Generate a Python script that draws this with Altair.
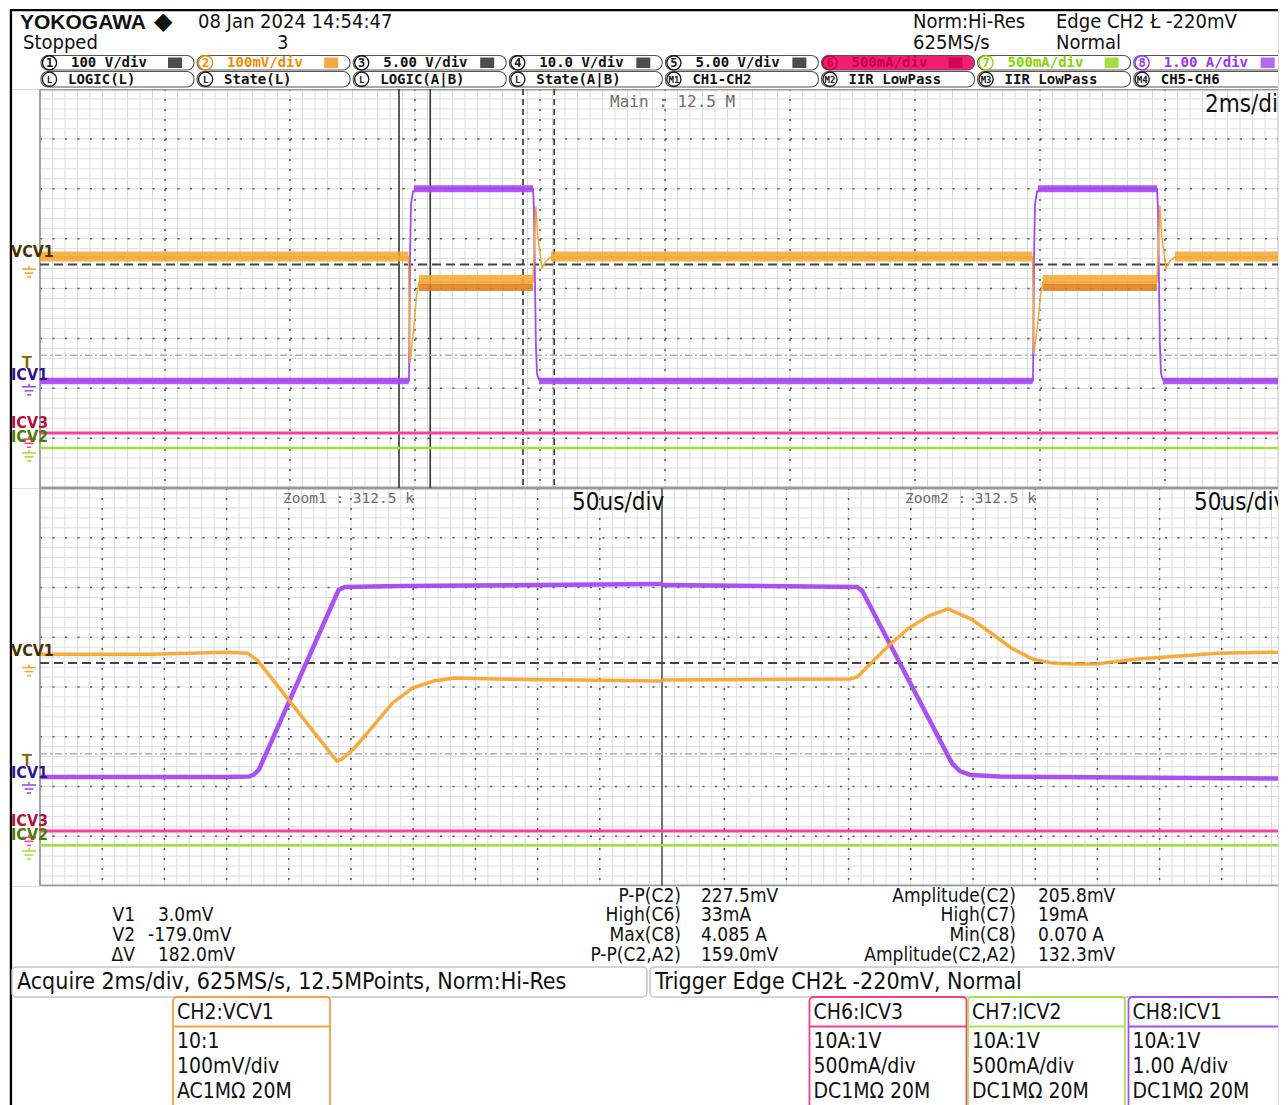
import altair as alt
import numpy as np
import pandas as pd

NARROW = "'Liberation Sans Narrow', 'Arial Narrow', 'DejaVu Sans Condensed', sans-serif"
MONO = "'DejaVu Sans Mono', 'Liberation Mono', monospace"
LOGO = "'Liberation Sans', Arial, sans-serif"

CHS = ["VCV1", "ICV1", "ICV3", "ICV2"]
CH_POS = {"VCV1": 0.45, "ICV1": -1.91, "ICV3": -2.963, "ICV2": -3.236}      # ground marker, div
CH_SCALE = {"VCV1": 100.0, "ICV1": 1.0, "ICV3": 0.5, "ICV2": 0.5}           # mV/div, A/div
CH_COLOR = {"VCV1": "#f5a732", "ICV1": "#a548f4", "ICV3": "#ff3c9c", "ICV2": "#a0e23c"}
LABEL_COLOR = {"VCV1": "#4a3200", "ICV1": "#2c1690", "ICV3": "#b4103e", "ICV2": "#4c7c00"}
LABEL_LIFT = {"VCV1": 0.28, "ICV1": 0.175, "ICV3": 0.26, "ICV2": 0.26}

cursor_v1_mv = 3.0
cursor_v2_mv = -179.0
trigger_mv = -220.0
zoom1_start_ms, zoom2_start_ms, zoom_len_ms = 5.744, 7.728, 0.5

# ---- Main window, 2 ms/div; t in ms from the left edge of the graticule
icv1_main_t = [0.0, 5.904, 5.92, 5.936, 5.968, 6.016, 7.888, 7.904, 7.934, 7.952, 7.984,
               15.888, 15.904, 15.92, 15.952, 16.0, 17.872, 17.888, 17.918, 17.936, 17.968, 19.9]
icv1_main_a = [0.06, 0.06, 2.5, 3.6, 3.85, 3.91, 3.91, 3.5, 0.8, 0.2, 0.08,
               0.06, 2.5, 3.6, 3.85, 3.91, 3.91, 3.5, 0.8, 0.2, 0.08, 0.06]
icv1_band_t0 = [0.0, 5.984, 7.984, 15.968, 17.968]
icv1_band_t1 = [5.90, 7.888, 15.884, 17.872, 19.9]
icv1_band_lo = [-0.01, 3.84, -0.01, 3.84, -0.01]
icv1_band_hi = [0.12, 3.98, 0.12, 3.98, 0.12]

vcv1_main_t = [0.0, 5.896, 5.92, 5.984, 6.024, 6.064, 7.888, 7.934, 7.964, 8.032, 8.096, 8.176,
               15.88, 15.904, 15.968, 16.008, 16.048, 17.872, 17.918, 17.948, 18.016, 18.08, 18.16, 19.9]
vcv1_main_mv = [18, 18, -195, -120, -60, -32, -32, 120, 60, -4, 10, 18,
                18, -175, -110, -60, -32, -32, 122, 60, -4, 10, 18, 18]
vcv1_base_t0 = [0.0, 8.176, 18.16]
vcv1_base_t1 = [5.896, 15.88, 19.9]
vcv1_base_lo, vcv1_base_hi = 9, 29
vcv1_pulse_t0 = [6.064, 16.048]
vcv1_pulse_t1 = [7.888, 17.872]
vcv1_pulse_top = (-38, -18)
vcv1_pulse_bot = (-50, -36)

icv3_main_t, icv3_main_a = [0.0, 19.9], [0.033, 0.033]
icv2_main_t, icv2_main_a = [0.0, 19.9], [0.019, 0.019]

# ---- Zoom windows, 50 us/div; t in us from the start of each zoom window
zoom1_vcv1_us = [0, 89, 150, 167, 175, 238.6, 242.6, 253, 266.6, 283.4, 299.4, 316.3, 333, 366, 432, 500]
zoom1_vcv1_mv = [21, 21, 25, 23, 8, -194, -190, -167, -127, -77, -47, -33, -27, -29, -31, -33]
zoom1_icv1_us = [0, 150, 168, 172, 176, 240, 245, 290, 400, 500]
zoom1_icv1_a = [0.10, 0.10, 0.11, 0.15, 0.25, 3.86, 3.92, 3.94, 3.96, 3.98]
zoom2_vcv1_us = [0, 151.3, 157, 168, 181.7, 198.6, 214.6, 229.8, 248.2, 264.2, 281, 297.9,
                 313.9, 330.7, 347.5, 380.3, 413.1, 446.7, 500]
zoom2_vcv1_mv = [-31, -29, -25, 3, 37, 74, 98, 112, 92, 64, 33, 11, 3, 1, 1, 11, 17, 23, 25]
zoom2_icv1_us = [0, 157, 161, 233, 239.4, 248.2, 271.4, 500]
zoom2_icv1_a = [3.96, 3.92, 3.84, 0.38, 0.22, 0.14, 0.11, 0.07]
zoom_icv3_a = 0.034
zoom_icv2_a = 0.027

# ---- header / footer texts
slot_nums = ["1", "2", "3", "4", "5", "6", "7", "8"]
slot_text = [" 100  V/div", " 100mV/div", "5.00  V/div", "10.0  V/div", "5.00  V/div",
             " 500mA/div", " 500mA/div", "1.00  A/div"]
slot_color = ["#111111", "#f08a00", "#111111", "#111111", "#111111", "#c4004e", "#86d400", "#9a35f5"]
math_nums = ["L", "L", "L", "L", "M1", "M2", "M3", "M4"]
math_text = ["LOGIC(L)", "State(L)", "LOGIC(A|B)", "State(A|B)", "CH1-CH2", "IIR LowPass",
             "IIR LowPass", "CH5-CH6"]
cursor_labels = ["V1", "V2", "ΔV"]
cursor_values = ["3.0mV", "-179.0mV", "182.0mV"]
meas1_labels = ["P-P(C2)", "High(C6)", "Max(C8)", "P-P(C2,A2)"]
meas1_values = ["227.5mV", "33mA", "4.085  A", "159.0mV"]
meas2_labels = ["Amplitude(C2)", "High(C7)", "Min(C8)", "Amplitude(C2,A2)"]
meas2_values = ["205.8mV", "19mA", "0.070  A", "132.3mV"]
info_boxes = [("CH2:VCV1", ["10:1", "100mV/div", "AC1MΩ 20M"], "#f5a040"),
              ("CH6:ICV3", ["10A:1V", "500mA/div", "DC1MΩ 20M"], "#f0408c"),
              ("CH7:ICV2", ["10A:1V", "500mA/div", "DC1MΩ 20M"], "#a6e448"),
              ("CH8:ICV1", ["10A:1V", "1.00  A/div", "DC1MΩ 20M"], "#a050f0")]

# ============================ LAYOUT ============================
W = 1269
GL = 39
DIVPX = 125.0
H_HEAD, H_MAIN, H_ZOOM, H_FOOT = 80, 399, 398, 220


def px2ms(px):
    return (px - GL) / DIVPX * 2.0


def px2zus(px):
    return (px - GL) * 500.0 / 622.0


def py2div(py, top, h):
    return 4.0 - (py - top) * 8.0 / h


def sc(d):
    return alt.Scale(domain=[float(d[0]), float(d[1])], nice=False, zero=False)


XS_MAIN = sc([px2ms(8), px2ms(1277)])
XS_ZOOM = sc([px2zus(8), px2zus(1277)])
XS_PAGE = sc([8, 1277])
YS_DIV = sc([-4, 4])
YS_HEAD = sc([88, 8])
YS_FOOT = sc([1105, 885])


def R(df, xs, ys, color, width, dash=None):
    kw = dict(color=color, strokeWidth=width, clip=True)
    if dash is not None:
        kw["strokeDash"] = dash
    e = {}
    if "x" in df:
        e["x"] = alt.X("x:Q", scale=xs, axis=None)
    if "x2" in df:
        e["x2"] = "x2:Q"
    if "y" in df:
        e["y"] = alt.Y("y:Q", scale=ys, axis=None)
    if "y2" in df:
        e["y2"] = "y2:Q"
    return alt.Chart(df).mark_rule(**kw).encode(**e)


def T(rows, xs, ys, **kw):
    df = pd.DataFrame(rows, columns=["text", "x", "y"])
    m = dict(align="left", baseline="middle", font=NARROW, fontSize=20, color="#111111", clip=True)
    m.update(kw)
    return alt.Chart(df).mark_text(**m).encode(
        x=alt.X("x:Q", scale=xs, axis=None), y=alt.Y("y:Q", scale=ys, axis=None), text="text:N")


def TC(rows, xs, ys, **kw):
    df = pd.DataFrame(rows, columns=["text", "x", "y", "c"])
    m = dict(align="left", baseline="middle", font=NARROW, fontSize=20, clip=True)
    m.update(kw)
    return alt.Chart(df).mark_text(**m).encode(
        x=alt.X("x:Q", scale=xs, axis=None), y=alt.Y("y:Q", scale=ys, axis=None),
        text="text:N", color=alt.Color("c:N", scale=None))


def LINE(x, y, xs, color, width, opacity=1.0):
    df = pd.DataFrame({"x": x, "y": y, "i": list(range(len(x)))})
    return alt.Chart(df).mark_line(color=color, strokeWidth=width, opacity=opacity, clip=True).encode(
        x=alt.X("x:Q", scale=xs, axis=None), y=alt.Y("y:Q", scale=YS_DIV, axis=None), order="i:Q")


def BAND(t0, t1, lo, hi, xs, color, opacity=1.0):
    rows = []
    for k in range(len(t0)):
        rows.append((t0[k], lo[k], hi[k], k))
        rows.append((t1[k], lo[k], hi[k], k))
    df = pd.DataFrame(rows, columns=["x", "lo", "hi", "seg"])
    return alt.Chart(df).mark_area(color=color, opacity=opacity, clip=True).encode(
        x=alt.X("x:Q", scale=xs, axis=None), y=alt.Y("lo:Q", scale=YS_DIV, axis=None),
        y2="hi:Q", detail="seg:N")


def ydiv(ch, vals):
    return [CH_POS[ch] + v / CH_SCALE[ch] for v in vals]


def graticule(xs, conv, minor_x, major_x, h):
    xr = conv(1295)
    L = []
    L.append(R(pd.DataFrame({"x": minor_x}), xs, YS_DIV, "#dcdcdc", 1))
    hy = [round(v, 2) for v in np.arange(-3.8, 3.9, 0.2)]
    L.append(R(pd.DataFrame({"x": 0.0, "x2": xr, "y": hy}), xs, YS_DIV, "#dcdcdc", 1))
    L.append(R(pd.DataFrame({"x": major_x}), xs, YS_DIV, "#5a5a5a", 1.5, [2, 8]))
    L.append(R(pd.DataFrame({"x": 0.0, "x2": xr, "y": [-3, -2, -1, 0, 1, 2, 3]}), xs, YS_DIV,
               "#5a5a5a", 1.5, [2, 10.5]))
    L.append(R(pd.DataFrame({"x": [0.0]}), xs, YS_DIV, "#8c8c8c", 1.6))
    L.append(R(pd.DataFrame({"x": 0.0, "x2": xr, "y": [4.0, -4.0]}), xs, YS_DIV, "#9a9a9a", 3))
    L.append(R(pd.DataFrame({"x": [conv(10)]}), xs, YS_DIV, "#000000", 2.2))
    return L


def cursors(xs, conv):
    xr = conv(1295)
    v1 = CH_POS["VCV1"] + cursor_v1_mv / CH_SCALE["VCV1"]
    v2 = CH_POS["VCV1"] + cursor_v2_mv / CH_SCALE["VCV1"]
    return [R(pd.DataFrame({"x": [0.0], "x2": [xr], "y": [v2]}), xs, YS_DIV, "#b0b0b0", 1.5, [7, 3, 2, 3]),
            R(pd.DataFrame({"x": [0.0], "x2": [xr], "y": [v1]}), xs, YS_DIV, "#444444", 2, [9, 5])]


def channel_marks(xs, conv, h):
    dpp = 8.0 / h
    L = []
    bars, stems = [], []
    for ch in CHS:
        g = CH_POS[ch]
        stems.append((conv(28), g, g - 3 * dpp, CH_COLOR[ch]))
        for off, hw in [(3, 7), (7, 4.5), (11, 2)]:
            bars.append((conv(28 - hw), conv(28 + hw), g - off * dpp, CH_COLOR[ch]))
    bdf = pd.DataFrame(bars, columns=["x", "x2", "y", "c"])
    L.append(alt.Chart(bdf).mark_rule(strokeWidth=1.6, clip=True).encode(
        x=alt.X("x:Q", scale=xs, axis=None), x2="x2:Q", y=alt.Y("y:Q", scale=YS_DIV, axis=None),
        color=alt.Color("c:N", scale=None)))
    sdf = pd.DataFrame(stems, columns=["x", "y", "y2", "c"])
    L.append(alt.Chart(sdf).mark_rule(strokeWidth=1.6, clip=True).encode(
        x=alt.X("x:Q", scale=xs, axis=None), y=alt.Y("y:Q", scale=YS_DIV, axis=None), y2="y2:Q",
        color=alt.Color("c:N", scale=None)))
    rows = [(ch, conv(10), CH_POS[ch] + LABEL_LIFT[ch], LABEL_COLOR[ch]) for ch in CHS]
    L.append(TC(rows, xs, YS_DIV, fontSize=16, fontWeight="bold"))
    trig = CH_POS["VCV1"] + trigger_mv / CH_SCALE["VCV1"]
    L.append(T([("T", conv(26), trig + 0.256)], xs, YS_DIV, fontSize=17, fontWeight="bold",
               color="#8a6000", align="center", font=LOGO))
    return L


# ============================ HEADER ============================
head = []
head.append(R(pd.DataFrame({"x": [10], "x2": [1277], "y": [9]}), XS_PAGE, YS_HEAD, "#000000", 2.5))
head.append(R(pd.DataFrame({"x": [10]}), XS_PAGE, YS_HEAD, "#000000", 2.2))
head.append(T([("YOKOGAWA", 19, 22)], XS_PAGE, YS_HEAD, font=LOGO, fontSize=21, fontWeight="bold"))
head.append(T([("◆", 153, 21)], XS_PAGE, YS_HEAD, font=LOGO, fontSize=24))
head.append(T([("08 Jan 2024 14:54:47", 197, 21), ("Stopped", 22, 42), ("3", 276, 42),
               ("Norm:Hi-Res", 912, 21), ("625MS/s", 912, 42),
               ("Edge CH2 Ł -220mV", 1055, 21), ("Normal", 1055, 42)],
              XS_PAGE, YS_HEAD, fontSize=20))
slot_x = [39 + 156.1 * k for k in range(8)]
pills = []
for k, s in enumerate(slot_x):
    pills.append((s + 1, s + 154, 54.5, 69, "#f41d74" if k == 5 else "#ffffff"))
    pills.append((s + 1, s + 154, 70.5, 86, "#ffffff"))
pdf = pd.DataFrame(pills, columns=["x", "x2", "y", "y2", "f"])
head.append(alt.Chart(pdf).mark_rect(stroke="#555555", strokeWidth=1.1, cornerRadius=7, clip=True).encode(
    x=alt.X("x:Q", scale=XS_PAGE, axis=None), x2="x2:Q", y=alt.Y("y:Q", scale=YS_HEAD, axis=None),
    y2="y2:Q", fill=alt.Fill("f:N", scale=None)))
icons = [(s + 128, s + 142, 56.5, 67, slot_color[k]) for k, s in enumerate(slot_x)]
idf = pd.DataFrame(icons, columns=["x", "x2", "y", "y2", "f"])
head.append(alt.Chart(idf).mark_rect(opacity=0.75, clip=True).encode(
    x=alt.X("x:Q", scale=XS_PAGE, axis=None), x2="x2:Q", y=alt.Y("y:Q", scale=YS_HEAD, axis=None),
    y2="y2:Q", fill=alt.Fill("f:N", scale=None)))
circ = [(s + 9.5, 61.8, slot_color[k]) for k, s in enumerate(slot_x)] + \
       [(s + 9.5, 78.2, "#111111") for s in slot_x]
cdf = pd.DataFrame(circ, columns=["x", "y", "c"])
head.append(alt.Chart(cdf).mark_point(shape="circle", size=200, filled=False, strokeWidth=1.3,
                                      opacity=1, clip=True).encode(
    x=alt.X("x:Q", scale=XS_PAGE, axis=None), y=alt.Y("y:Q", scale=YS_HEAD, axis=None),
    color=alt.Color("c:N", scale=None)))
head.append(TC([(slot_nums[k], s + 9.5, 62, slot_color[k]) for k, s in enumerate(slot_x)],
               XS_PAGE, YS_HEAD, font=MONO, fontSize=12, fontWeight="bold", align="center"))
head.append(TC([(math_nums[k], s + 9.5, 78.5, "#111111") for k, s in enumerate(slot_x)],
               XS_PAGE, YS_HEAD, font=MONO, fontSize=9, fontWeight="bold", align="center"))
head.append(TC([(slot_text[k], s + 31, 62, slot_color[k]) for k, s in enumerate(slot_x)],
               XS_PAGE, YS_HEAD, font=MONO, fontSize=14, fontWeight="bold"))
head.append(TC([(math_text[k], s + 28, 78.5, "#111111") for k, s in enumerate(slot_x)],
               XS_PAGE, YS_HEAD, font=MONO, fontSize=14, fontWeight="bold"))
header = alt.layer(*head).properties(width=W, height=H_HEAD)

# ============================ MAIN WINDOW ============================
mm = []
mm += graticule(XS_MAIN, px2ms, [round(v, 2) for v in np.arange(0.2, 19.9, 0.2)],
                [2, 4, 6, 8, 10, 12, 14, 16, 18], H_MAIN)
mm.append(R(pd.DataFrame({"x": [zoom1_start_ms, zoom1_start_ms + zoom_len_ms]}), XS_MAIN, YS_DIV,
            "#333333", 1.6))
mm.append(R(pd.DataFrame({"x": [zoom2_start_ms, zoom2_start_ms + zoom_len_ms]}), XS_MAIN, YS_DIV,
            "#333333", 1.6, [6, 4]))
mm += cursors(XS_MAIN, px2ms)
mm.append(LINE(icv2_main_t, ydiv("ICV2", icv2_main_a), XS_MAIN, CH_COLOR["ICV2"], 2.5))
mm.append(LINE(icv3_main_t, ydiv("ICV3", icv3_main_a), XS_MAIN, CH_COLOR["ICV3"], 3))
mm.append(BAND(icv1_band_t0, icv1_band_t1, ydiv("ICV1", icv1_band_lo), ydiv("ICV1", icv1_band_hi),
               XS_MAIN, CH_COLOR["ICV1"], 0.9))
mm.append(LINE(icv1_main_t, ydiv("ICV1", icv1_main_a), XS_MAIN, CH_COLOR["ICV1"], 1.8))
nb = len(vcv1_base_t0)
mm.append(BAND(vcv1_base_t0, vcv1_base_t1, ydiv("VCV1", [vcv1_base_lo] * nb),
               ydiv("VCV1", [vcv1_base_hi] * nb), XS_MAIN, CH_COLOR["VCV1"], 0.85))
npul = len(vcv1_pulse_t0)
mm.append(BAND(vcv1_pulse_t0, vcv1_pulse_t1, ydiv("VCV1", [vcv1_pulse_top[0]] * npul),
               ydiv("VCV1", [vcv1_pulse_top[1]] * npul), XS_MAIN, CH_COLOR["VCV1"], 0.85))
mm.append(BAND(vcv1_pulse_t0, vcv1_pulse_t1, ydiv("VCV1", [vcv1_pulse_bot[0]] * npul),
               ydiv("VCV1", [vcv1_pulse_bot[1]] * npul), XS_MAIN, "#e07a1c", 0.85))
mm.append(LINE(vcv1_main_t, ydiv("VCV1", vcv1_main_mv), XS_MAIN, CH_COLOR["VCV1"], 1.5))
mm += channel_marks(XS_MAIN, px2ms, H_MAIN)
mm.append(T([("Main : 12.5 M", px2ms(609), py2div(101, 88, H_MAIN))], XS_MAIN, YS_DIV,
            font=MONO, fontSize=16, color="#6e6e6e"))
mm.append(T([("2ms/div", px2ms(1204), py2div(104, 88, H_MAIN))], XS_MAIN, YS_DIV, fontSize=24))
main = alt.layer(*mm).properties(width=W, height=H_MAIN)

# ============================ ZOOM WINDOWS ============================
zz = []
zmaj = [v for v in range(50, 1000, 50) if v != 500]
zz += graticule(XS_ZOOM, px2zus, list(range(10, 1000, 10)), zmaj, H_ZOOM)
zz.append(R(pd.DataFrame({"x": [500.0]}), XS_ZOOM, YS_DIV, "#555555", 1.6))
zz += cursors(XS_ZOOM, px2zus)
for w, (vt, vv, it, iv) in enumerate([(zoom1_vcv1_us, zoom1_vcv1_mv, zoom1_icv1_us, zoom1_icv1_a),
                                      (zoom2_vcv1_us, zoom2_vcv1_mv, zoom2_icv1_us, zoom2_icv1_a)]):
    off = 500.0 * w
    zz.append(LINE([off, off + 500], ydiv("ICV2", [zoom_icv2_a] * 2), XS_ZOOM, CH_COLOR["ICV2"], 2.5))
    zz.append(LINE([off, off + 500], ydiv("ICV3", [zoom_icv3_a] * 2), XS_ZOOM, CH_COLOR["ICV3"], 3))
    zz.append(LINE([off + t for t in it], ydiv("ICV1", iv), XS_ZOOM, CH_COLOR["ICV1"], 4.5, 0.95))
    zz.append(LINE([off + t for t in vt], ydiv("VCV1", vv), XS_ZOOM, CH_COLOR["VCV1"], 3.5, 0.95))
zz += channel_marks(XS_ZOOM, px2zus, H_ZOOM)
zz.append(T([("Zoom1 : 312.5 k", px2zus(282), py2div(498, 487, H_ZOOM)),
             ("Zoom2 : 312.5 k", px2zus(904), py2div(498, 487, H_ZOOM))], XS_ZOOM, YS_DIV,
            font=MONO, fontSize=14.5, color="#6e6e6e"))
zz.append(T([("50us/div", px2zus(571), py2div(502, 487, H_ZOOM)),
             ("50us/div", px2zus(1193), py2div(502, 487, H_ZOOM))], XS_ZOOM, YS_DIV, fontSize=24))
zoom = alt.layer(*zz).properties(width=W, height=H_ZOOM)

# ============================ FOOTER ============================
ff = []
ff.append(R(pd.DataFrame({"x": [10]}), XS_PAGE, YS_FOOT, "#000000", 2.2))
rows_y = [895, 914, 934, 954]
ff.append(T([(cursor_labels[i], 134, rows_y[i + 1]) for i in range(3)], XS_PAGE, YS_FOOT,
            align="right", fontSize=19))
ff.append(T([(cursor_values[i], 147 if cursor_values[i].startswith("-") else 157, rows_y[i + 1])
             for i in range(3)], XS_PAGE, YS_FOOT, fontSize=19))
ff.append(T([(meas1_labels[i], 680, rows_y[i]) for i in range(4)], XS_PAGE, YS_FOOT, align="right",
            fontSize=19))
ff.append(T([(meas1_values[i], 700, rows_y[i]) for i in range(4)], XS_PAGE, YS_FOOT, fontSize=19))
ff.append(T([(meas2_labels[i], 1015, rows_y[i]) for i in range(4)], XS_PAGE, YS_FOOT, align="right",
            fontSize=19))
ff.append(T([(meas2_values[i], 1037, rows_y[i]) for i in range(4)], XS_PAGE, YS_FOOT, fontSize=19))
bars = pd.DataFrame([(11, 646, 966, 996), (649, 1290, 966, 996)], columns=["x", "x2", "y", "y2"])
ff.append(alt.Chart(bars).mark_rect(fill="#ffffff", stroke="#c4c4c4", strokeWidth=1.5, cornerRadius=4,
                                    clip=True).encode(
    x=alt.X("x:Q", scale=XS_PAGE, axis=None), x2="x2:Q", y=alt.Y("y:Q", scale=YS_FOOT, axis=None), y2="y2:Q"))
ff.append(T([("Acquire 2ms/div, 625MS/s, 12.5MPoints, Norm:Hi-Res", 16, 981),
             ("Trigger Edge  CH2Ł  -220mV, Normal", 654, 981)], XS_PAGE, YS_FOOT, fontSize=23))
box_x = [172, 808.5, 967, 1127.5]
boxes, seps, btxt = [], [], []
for (head_t, lines, col), bx in zip(info_boxes, box_x):
    boxes.append((bx, bx + 157, 996, 1125, col))
    seps.append((bx, bx + 157, 1025.5, col))
    btxt.append((head_t, bx + 4, 1012))
    for j, ln in enumerate(lines):
        btxt.append((ln, bx + 4, 1041 + 25 * j))
bdf = pd.DataFrame(boxes, columns=["x", "x2", "y", "y2", "c"])
ff.append(alt.Chart(bdf).mark_rect(fill="#ffffff", strokeWidth=1.8, cornerRadius=4, clip=True).encode(
    x=alt.X("x:Q", scale=XS_PAGE, axis=None), x2="x2:Q", y=alt.Y("y:Q", scale=YS_FOOT, axis=None),
    y2="y2:Q", stroke=alt.Stroke("c:N", scale=None)))
sdf = pd.DataFrame(seps, columns=["x", "x2", "y", "c"])
ff.append(alt.Chart(sdf).mark_rule(strokeWidth=1.8, clip=True).encode(
    x=alt.X("x:Q", scale=XS_PAGE, axis=None), x2="x2:Q", y=alt.Y("y:Q", scale=YS_FOOT, axis=None),
    color=alt.Color("c:N", scale=None)))
ff.append(T(btxt, XS_PAGE, YS_FOOT, fontSize=21))
footer = alt.layer(*ff).properties(width=W, height=H_FOOT)

chart = alt.vconcat(header, main, zoom, footer, spacing=0, bounds="flush", padding=0)
chart = chart.configure_view(stroke=None).configure(background="white")
chart.save("out.html", embed_options={"renderer": "svg", "actions": False})
